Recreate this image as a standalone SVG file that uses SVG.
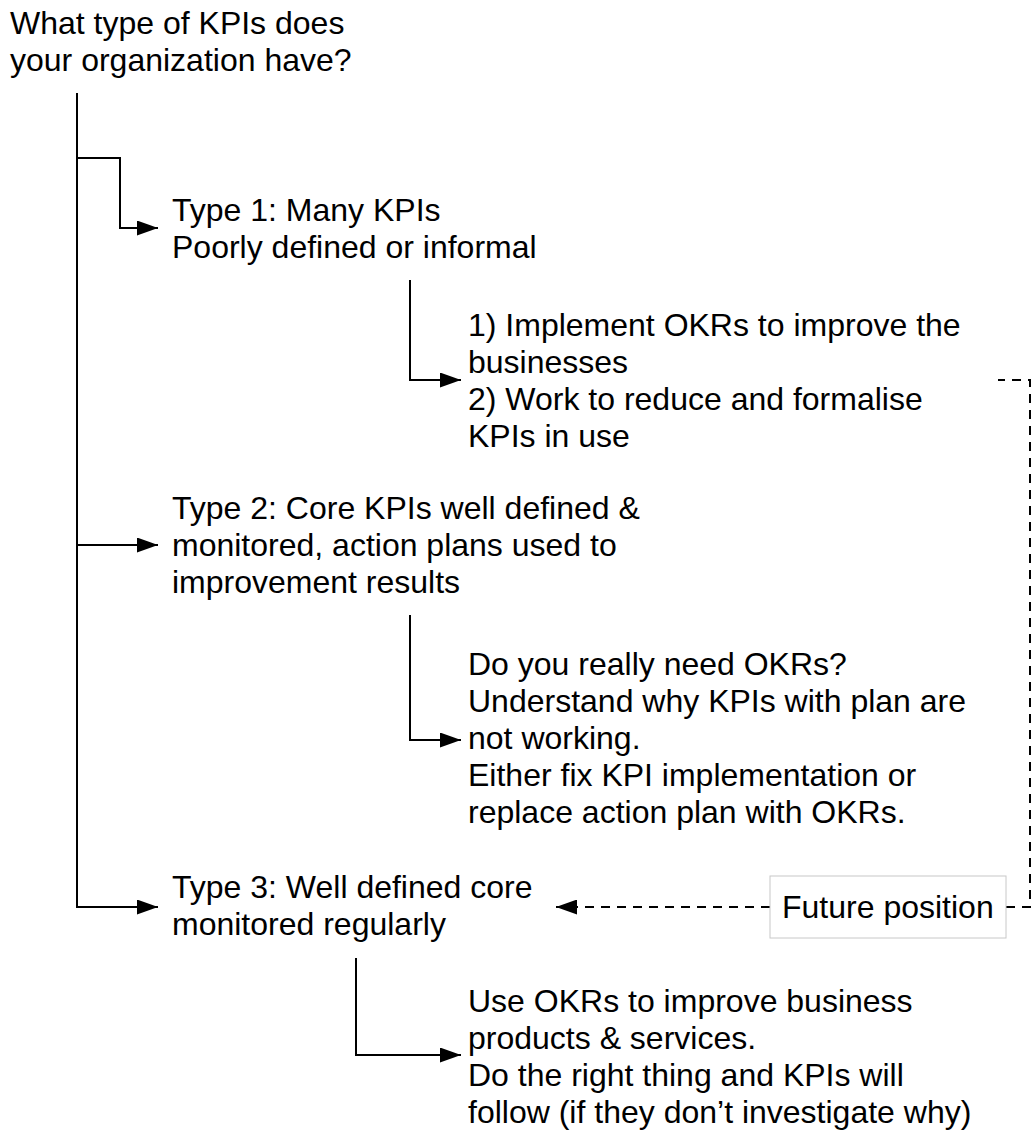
<svg xmlns="http://www.w3.org/2000/svg" width="1033" height="1135" viewBox="0 0 1033 1135">
<style>
text{font-family:"Liberation Sans",Arial,sans-serif;font-size:32px;fill:#000}
.ln{fill:none;stroke:#000;stroke-width:2}
.dash{fill:none;stroke:#000;stroke-width:2;stroke-dasharray:9,7}
</style>
<defs>
<marker id="ah" markerWidth="21" markerHeight="15" refX="21" refY="7.5" orient="auto" markerUnits="userSpaceOnUse">
<path d="M0,0 L21,7.5 L0,15 Z" fill="#000"/>
</marker>
</defs>
<rect width="1033" height="1135" fill="#fff"/>
<g id="connectors">
<path class="ln" d="M77,93 V907 H158" marker-end="url(#ah)"/>
<path class="ln" d="M77,158 H120 V228 H158" marker-end="url(#ah)"/>
<path class="ln" d="M77,545 H158" marker-end="url(#ah)"/>
<path class="ln" d="M410,280 V380 H461" marker-end="url(#ah)"/>
<path class="ln" d="M410,615 V740 H461" marker-end="url(#ah)"/>
<path class="ln" d="M356,958 V1055 H461" marker-end="url(#ah)"/>
<path class="dash" d="M770,907 H556" marker-end="url(#ah)"/>
<path class="dash" d="M1006,907 H1030 V380 H998"/>
</g>
<g id="question">
<text x="10" y="34">What type of KPIs does</text>
<text x="10" y="71">your organization have?</text>
</g>
<g id="type1">
<text x="172" y="221">Type 1: Many KPIs</text>
<text x="172" y="258">Poorly defined or informal</text>
</g>
<g id="type1-action">
<text x="468" y="336">1) Implement OKRs to improve the</text>
<text x="468" y="373">businesses</text>
<text x="468" y="410">2) Work to reduce and formalise</text>
<text x="468" y="447">KPIs in use</text>
</g>
<g id="type2">
<text x="172" y="519">Type 2: Core KPIs well defined &amp;</text>
<text x="172" y="556">monitored, action plans used to</text>
<text x="172" y="593">improvement results</text>
</g>
<g id="type2-action">
<text x="468" y="675">Do you really need OKRs?</text>
<text x="468" y="712">Understand why KPIs with plan are</text>
<text x="468" y="749">not working.</text>
<text x="468" y="786">Either fix KPI implementation or</text>
<text x="468" y="823">replace action plan with OKRs.</text>
</g>
<g id="type3">
<text x="172" y="898">Type 3: Well defined core</text>
<text x="172" y="935">monitored regularly</text>
</g>
<g id="type3-action">
<text x="468" y="1012">Use OKRs to improve business</text>
<text x="468" y="1049">products &amp; services.</text>
<text x="468" y="1086">Do the right thing and KPIs will</text>
<text x="468" y="1123">follow (if they don’t investigate why)</text>
</g>
<g id="future-position">
<rect x="770" y="876" width="236" height="62" fill="#fff" stroke="#c8c8c8" stroke-width="1"/>
<text x="782" y="918">Future position</text>
</g>
</svg>
